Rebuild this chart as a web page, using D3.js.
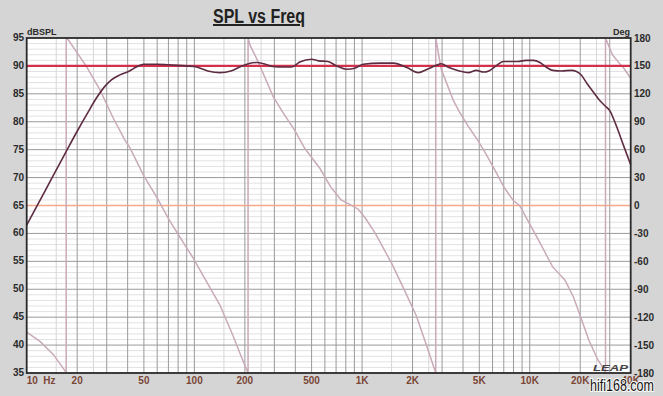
<!DOCTYPE html>
<html>
<head>
<meta charset="utf-8">
<script src="https://cdn.jsdelivr.net/npm/d3@7"></script>
<style>
  body { margin: 0; background: #d5d5d5; }
  svg text { font-family: "Liberation Sans Narrow", "Arial Narrow", "Liberation Sans", Arial, sans-serif; }
</style>
</head>
<body>
<div id="chart"></div>
<script>
// SPL magnitude (Hz, dB)
const splFreq = [10, 12, 14, 17, 20, 23, 26, 29, 32, 36, 41, 45, 50, 60, 70, 80, 100,
    120, 142, 165, 186, 210, 235, 265, 294, 340, 380, 425, 500, 550, 625, 705, 810, 905, 1015, 1280, 1540,
    1850, 2160, 2450, 2770, 2960, 3300, 3800, 4300, 4800, 5300, 5700, 6300, 6950, 8500, 9500, 10500, 11500,
    12500, 13700, 15500, 17700, 19000, 20400, 22000, 24000, 26000, 28000, 30000, 33000, 36500, 40000];
const splDb = [61.5, 65.9, 69.7, 74.4, 78.3, 81.5, 84.2, 86.2, 87.5, 88.4, 89.1, 89.8, 90.3, 90.3, 90.2, 90.1, 89.9,
    89.1, 88.8, 89.1, 89.8, 90.4, 90.6, 90.3, 89.9, 89.8, 89.8, 90.7, 91.2, 90.9, 90.8, 90.0, 89.4, 89.6, 90.3, 90.5, 90.5,
    89.7, 88.8, 89.4, 90.1, 90.4, 89.7, 89.1, 88.8, 89.2, 88.9, 89.1, 90.0, 90.8, 90.8, 91.0, 91.0, 90.6,
    89.8, 89.2, 89.1, 89.2, 89.0, 88.3, 86.8, 85.3, 83.9, 82.9, 82.0, 79.1, 75.5, 72.3];

// phase (Hz, degrees) - wraps drawn as vertical jumps
const phaseFreq = [10, 12, 14.4, 16.9, 17.2, 17.2, 17.7, 22.8, 27.4, 32.8, 38.6, 41.3, 49.6, 60.9, 70, 82, 98, 120, 142, 170, 190, 209,
    209, 215, 240, 295, 340, 396, 455, 560, 650, 750, 850, 950, 1050, 1200, 1500, 1800, 2100, 2400, 2750,
    2750, 2960, 3500, 3800, 4300, 4900, 5500, 6200, 7000, 8000, 8700, 10000, 11500, 13700, 16200, 18200, 20100, 22500, 25500, 27900, 28300,
    28300, 31100, 34200, 36400, 40000];
const phaseDeg = [-136, -146, -160, -177.5, -180, 180, 178, 149, 124, 94, 70, 62, 33, 6, -14, -34, -56, -84, -107, -140, -162, -180,
    180, 172, 154.5, 117, 99, 81, 61.5, 40, 20, 6, 1, -4, -14, -30, -62, -92, -118, -148, -180,
    180, 147, 113, 101, 85, 70, 55, 38, 20, 5, 0, -20, -40, -66, -80, -98, -119.5, -144.5, -166, -177, -180,
    180, 162, 153, 147.5, 136.7];

const dbTicks = [95, 90, 85, 80, 75, 70, 65, 60, 55, 50, 45, 40, 35];
const degTicks = [180, 150, 120, 90, 60, 30, 0, -30, -60, -90, -120, -150, -180];
const freqTicks = [20, 50, 100, 200, 500, 1000, 2000, 5000, 10000, 20000, 40000];
const freqLabels = ["20", "50", "100", "200", "500", "1K", "2K", "5K", "10K", "20K", "40K"];
const refDb = 90;
const refDeg = 0;

const W = 663, H = 396;
const plotL = 26.7, plotR = 630.7, plotT = 38, plotB = 373;

const svg = d3.select("#chart").append("svg")
    .attr("width", W)
    .attr("height", H);

svg.append("rect").attr("width", W).attr("height", H).attr("fill", "#d5d5d5");

const x = d3.scaleLog().domain([10, 40000]).range([plotL, plotR]);
const y = d3.scaleLinear().domain([35, 95]).range([plotB, plotT]);
const yp = d3.scaleLinear().domain([-180, 180]).range([plotB, plotT]);

svg.append("rect")
    .attr("x", plotL).attr("y", plotT)
    .attr("width", plotR - plotL).attr("height", plotB - plotT)
    .attr("fill", "#ffffff");

// grid
const minorV = [], majorV = [];
for (let k = 10; k <= 10000; k *= 10) {
    [1.5, 2.5].forEach(m => minorV.push(m * k));
    for (let m = 1; m <= 9; m++) if (m * k > 10 && m * k < 40000) majorV.push(m * k);
}
const minorH = d3.range(35, 96).filter(d => d % 5 !== 0);
const majorH = d3.range(40, 95, 5);

svg.append("g").selectAll("line").data(minorH).join("line")
    .attr("x1", plotL).attr("x2", plotR)
    .attr("y1", d => y(d)).attr("y2", d => y(d))
    .attr("stroke", "#e2e2e2").attr("stroke-width", 1);
svg.append("g").selectAll("line").data(minorV).join("line")
    .attr("x1", d => x(d)).attr("x2", d => x(d))
    .attr("y1", plotT).attr("y2", plotB)
    .attr("stroke", "#d6d6d6").attr("stroke-width", 1);
svg.append("g").selectAll("line").data(majorH).join("line")
    .attr("x1", plotL).attr("x2", plotR)
    .attr("y1", d => y(d)).attr("y2", d => y(d))
    .attr("stroke", "#9a9a9a").attr("stroke-width", 1);
svg.append("g").selectAll("line").data(majorV).join("line")
    .attr("x1", d => x(d)).attr("x2", d => x(d))
    .attr("y1", plotT).attr("y2", plotB)
    .attr("stroke", "#9a9a9a").attr("stroke-width", 1);

// reference line at 0 deg
svg.append("line")
    .attr("x1", plotL).attr("x2", plotR)
    .attr("y1", yp(refDeg)).attr("y2", yp(refDeg))
    .attr("stroke", "#f5a98a").attr("stroke-width", 1.3);

// phase curve
const phaseLine = d3.line().x(d => x(d[0])).y(d => yp(d[1]));
svg.append("path")
    .datum(phaseFreq.map((f, i) => [f, phaseDeg[i]]))
    .attr("d", phaseLine)
    .attr("fill", "none")
    .attr("stroke", "#c9aab9")
    .attr("stroke-width", 1.5);

svg.append("line")
    .attr("x1", plotL).attr("x2", plotR)
    .attr("y1", y(refDb)).attr("y2", y(refDb))
    .attr("stroke", "#d3304c").attr("stroke-width", 2.2);

// SPL curve
const splLine = d3.line().curve(d3.curveMonotoneX).x(d => x(d[0])).y(d => y(d[1]));
svg.append("path")
    .datum(splFreq.map((f, i) => [f, splDb[i]]))
    .attr("d", splLine)
    .attr("fill", "none")
    .attr("stroke", "#5e2c42")
    .attr("stroke-width", 1.6);

// frame
svg.append("rect")
    .attr("x", plotL).attr("y", plotT)
    .attr("width", plotR - plotL).attr("height", plotB - plotT)
    .attr("fill", "none")
    .attr("stroke", "#2a2a2a").attr("stroke-width", 1.8);

// left axis labels
svg.append("g").selectAll("text").data(dbTicks).join("text")
    .attr("x", 24).attr("y", d => y(d) + 3)
    .attr("text-anchor", "end")
    .style("font-size", "10px").style("font-weight", "bold")
    .attr("fill", "#2b2b2b")
    .text(d => d);

// right axis labels
svg.append("g").selectAll("text").data(degTicks).join("text")
    .attr("x", 634).attr("y", d => yp(d) + 3.5)
    .attr("text-anchor", "start")
    .style("font-size", "10px").style("font-weight", "bold")
    .attr("fill", "#2b2b2b")
    .text(d => d);

// bottom labels
svg.append("g").selectAll("text").data(freqTicks).join("text")
    .attr("x", d => x(d)).attr("y", 384)
    .attr("text-anchor", "middle")
    .style("font-size", "10px").style("font-weight", "bold")
    .attr("fill", "#7a4636")
    .text((d, i) => freqLabels[i]);
svg.append("text")
    .attr("x", x(10)).attr("y", 384)
    .style("font-size", "10px").style("font-weight", "bold")
    .attr("fill", "#7a4636")
    .attr("xml:space", "preserve")
    .text("10  Hz");

svg.append("text")
    .attr("x", 27).attr("y", 35)
    .style("font-size", "9px").style("font-weight", "bold")
    .attr("fill", "#2b2b2b")
    .text("dBSPL");
svg.append("text")
    .attr("x", 630).attr("y", 35)
    .attr("text-anchor", "end")
    .style("font-size", "9px").style("font-weight", "bold")
    .attr("fill", "#2b2b2b")
    .text("Deg");

// title
svg.append("text")
    .attr("x", 259).attr("y", 23)
    .attr("text-anchor", "middle")
    .attr("textLength", 92).attr("lengthAdjust", "spacingAndGlyphs")
    .style("font-size", "20px").style("font-weight", "bold")
    .style("text-decoration", "underline")
    .attr("fill", "#222")
    .text("SPL vs Freq");

// logo + watermark
svg.append("text")
    .attr("x", 593).attr("y", 371)
    .attr("textLength", 35).attr("lengthAdjust", "spacingAndGlyphs")
    .style("font-size", "9px").style("font-weight", "bold").style("font-style", "italic")
    .attr("fill", "#444")
    .text("LEAP");
svg.append("text")
    .attr("x", 590).attr("y", 391)
    .attr("textLength", 64).attr("lengthAdjust", "spacingAndGlyphs")
    .style("font-size", "16px")
    .attr("fill", "#111")
    .attr("stroke", "#fff").attr("stroke-width", 2).style("paint-order", "stroke")
    .text("hifi168.com");
</script>
</body>
</html>
